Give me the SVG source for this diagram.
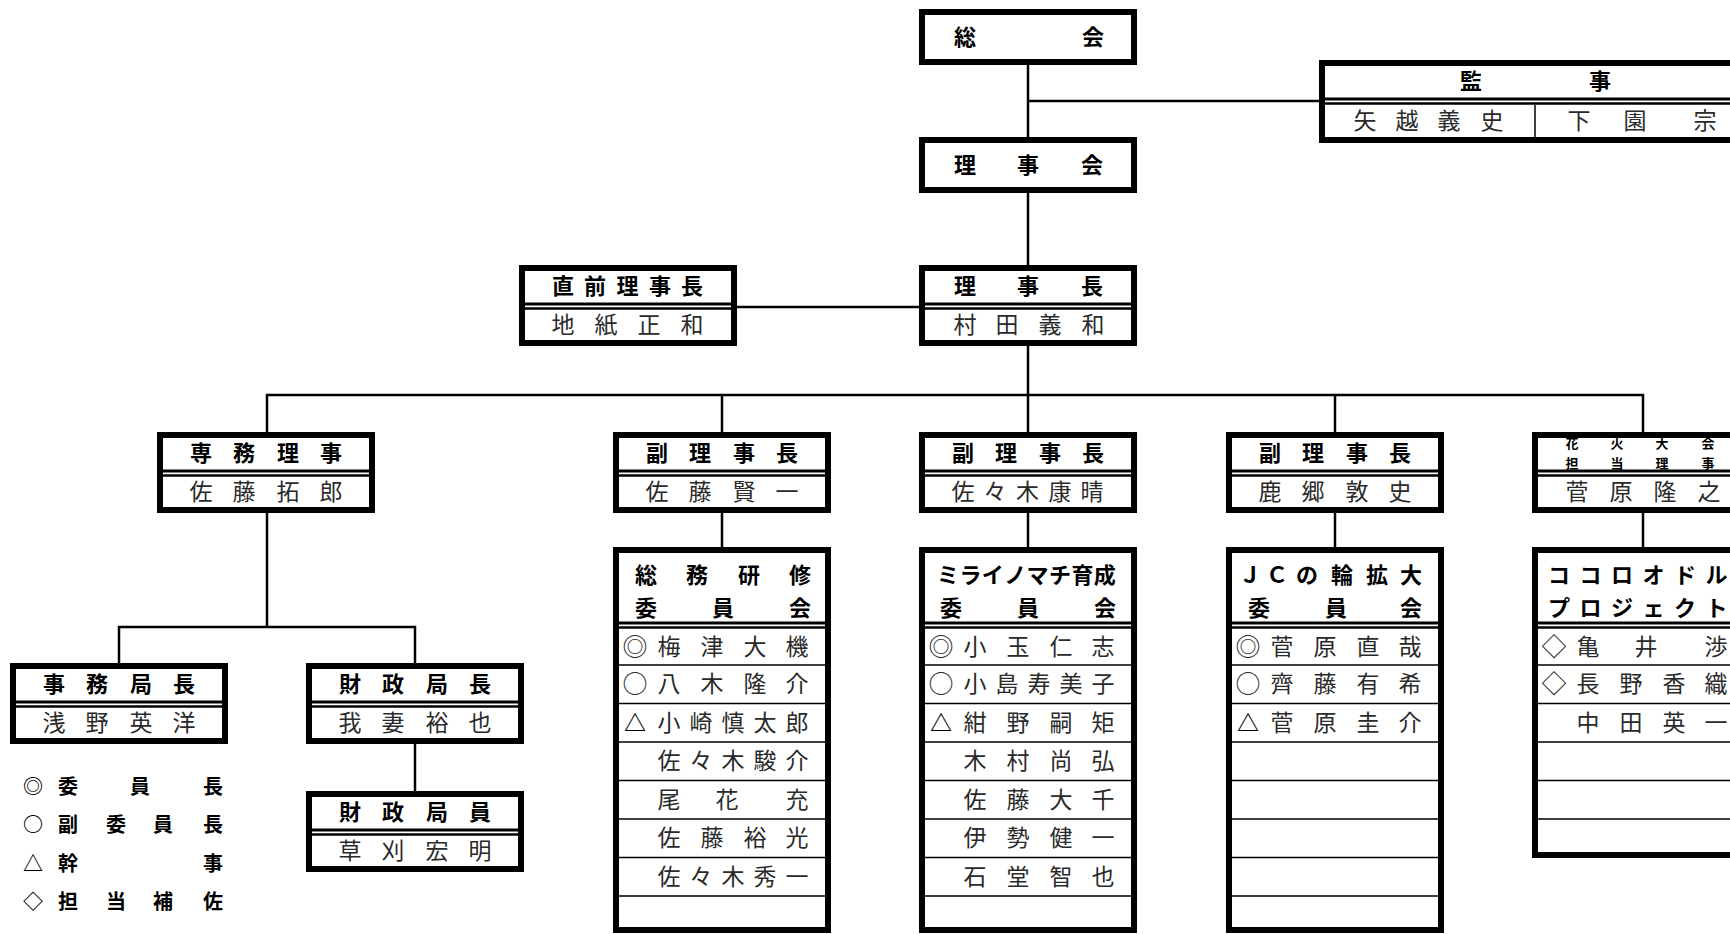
<svg xmlns="http://www.w3.org/2000/svg" width="1730" height="934" viewBox="0 0 1730 934">
<style>
.box{fill:#fff;stroke:#000;stroke-width:6}
.dl1{stroke:#000;stroke-width:3;fill:none}
.dl2{stroke:#000;stroke-width:2.5;fill:none}
.row{stroke:#000;stroke-width:1.5;fill:none}
.conn{stroke:#000;stroke-width:2.5;fill:none}
.t{font-family:"Noto Sans CJK JP","Noto Sans CJK SC",sans-serif;font-weight:bold;font-size:22px;text-anchor:middle;fill:#000}
.s{font-family:"Noto Sans CJK JP","Noto Sans CJK SC",sans-serif;font-weight:bold;font-size:13px;text-anchor:middle;fill:#000}
.n{font-family:"Noto Sans CJK JP","Noto Sans CJK SC",sans-serif;font-weight:normal;font-size:23px;text-anchor:middle;fill:#2a2a2a}
.sym{font-family:"Noto Sans CJK JP","Noto Sans CJK SC",sans-serif;font-weight:normal;font-size:25px;text-anchor:middle;fill:#2a2a2a}
.nb{font-family:"Noto Sans CJK JP","Noto Sans CJK SC",sans-serif;font-weight:bold;font-size:22px;text-anchor:middle;fill:#000}
.lg{font-family:"Noto Sans CJK JP","Noto Sans CJK SC",sans-serif;font-weight:bold;font-size:20px;text-anchor:middle;fill:#000}
</style>
<rect width="1730" height="934" fill="#fff"/>

<g id="connectors">
<path class="conn" d="M1028 65V137"/>
<path class="conn" d="M1028 101H1320"/>
<path class="conn" d="M1028 193V265"/>
<path class="conn" d="M737 307H919"/>
<path class="conn" d="M1028 346V432"/>
<path class="conn" d="M267 432V395H1643V432"/>
<path class="conn" d="M722 395V432"/>
<path class="conn" d="M1335 395V432"/>
<path class="conn" d="M722 513V547"/>
<path class="conn" d="M1028 513V547"/>
<path class="conn" d="M1335 513V547"/>
<path class="conn" d="M1643 513V547"/>
<path class="conn" d="M267 513V627"/>
<path class="conn" d="M119 663V627H415V663"/>
<path class="conn" d="M415 744V791"/>
</g>

<g id="sokai">
<rect class="box" x="922" y="12" width="212" height="50"/>
<text class="t" x="965 1093" y="45">総会</text>
</g>

<g id="rijikai">
<rect class="box" x="922" y="140" width="212" height="50"/>
<text class="t" x="965 1028 1092" y="173">理事会</text>
</g>

<g id="kanji">
<rect class="box" x="1322" y="63" width="427" height="77"/>
<path class="dl1" d="M1322 99H1749"/>
<path class="dl2" d="M1322 103.5H1749"/>
<path class="row" d="M1535 105V140"/>
<text class="t" x="1471 1600" y="89">監事</text>
<text class="n" x="1365 1407 1449 1492" y="129">矢越義史</text>
<text class="n" x="1579 1635 1705" y="129">下園宗</text>
</g>

<g id="rijicho">
<rect class="box" x="922" y="268" width="212" height="75"/>
<path class="dl1" d="M922 304H1134"/>
<path class="dl2" d="M922 308.5H1134"/>
<text class="t" x="965 1028 1092" y="294">理事長</text>
<text class="n" x="965 1007 1050 1093" y="333">村田義和</text>
</g>

<g id="chokuzen">
<rect class="box" x="522" y="268" width="212" height="75"/>
<path class="dl1" d="M522 304H734"/>
<path class="dl2" d="M522 308.5H734"/>
<text class="t" x="563 595 627.5 660 692" y="294">直前理事長</text>
<text class="n" x="563 606 649 692" y="333">地紙正和</text>
</g>

<g id="senmu">
<rect class="box" x="160" y="435" width="212" height="75"/>
<path class="dl1" d="M160 471H372"/>
<path class="dl2" d="M160 475.5H372"/>
<text class="t" x="201 244 288 331" y="461">専務理事</text>
<text class="n" x="201 244 288 331" y="500">佐藤拓郎</text>
</g>

<g id="fuku1">
<rect class="box" x="616" y="435" width="212" height="75"/>
<path class="dl1" d="M616 471H828"/>
<path class="dl2" d="M616 475.5H828"/>
<text class="t" x="657 700 744 787" y="461">副理事長</text>
<text class="n" x="657 700 744 787" y="500">佐藤賢一</text>
</g>

<g id="fuku2">
<rect class="box" x="922" y="435" width="212" height="75"/>
<path class="dl1" d="M922 471H1134"/>
<path class="dl2" d="M922 475.5H1134"/>
<text class="t" x="963 1006 1050 1093" y="461">副理事長</text>
<text class="n" x="963 995 1027.5 1060 1092" y="500">佐々木康晴</text>
</g>

<g id="fuku3">
<rect class="box" x="1229" y="435" width="212" height="75"/>
<path class="dl1" d="M1229 471H1441"/>
<path class="dl2" d="M1229 475.5H1441"/>
<text class="t" x="1270 1313 1357 1400" y="461">副理事長</text>
<text class="n" x="1270 1313 1357 1400" y="500">鹿郷敦史</text>
</g>

<g id="hanabi">
<rect class="box" x="1535" y="435" width="212" height="75"/>
<path class="dl1" d="M1535 471H1747"/>
<path class="dl2" d="M1535 475.5H1747"/>
<text class="s" x="1572 1617 1662 1708" y="448">花火大会</text>
<text class="s" x="1572 1617 1662 1708" y="468">担当理事</text>
<text class="n" x="1577 1621 1665 1709" y="500">菅原隆之</text>
</g>

<g id="jimukyokucho">
<rect class="box" x="13" y="666" width="212" height="75"/>
<path class="dl1" d="M13 702H225"/>
<path class="dl2" d="M13 706.5H225"/>
<text class="t" x="54 97 141 184" y="692">事務局長</text>
<text class="n" x="54 97 141 184" y="731">浅野英洋</text>
</g>

<g id="zaiseikyokucho">
<rect class="box" x="309" y="666" width="212" height="75"/>
<path class="dl1" d="M309 702H521"/>
<path class="dl2" d="M309 706.5H521"/>
<text class="t" x="350 393 437 480" y="692">財政局長</text>
<text class="n" x="350 393 437 480" y="731">我妻裕也</text>
</g>

<g id="zaiseikyokuin">
<rect class="box" x="309" y="794" width="212" height="75"/>
<path class="dl1" d="M309 830H521"/>
<path class="dl2" d="M309 834.5H521"/>
<text class="t" x="350 393 437 480" y="820">財政局員</text>
<text class="n" x="350 393 437 480" y="859">草刈宏明</text>
</g>

<g id="somu">
<rect class="box" x="616" y="550" width="212" height="380"/>
<path class="dl1" d="M616 623H828"/>
<path class="dl2" d="M616 627.5H828"/>
<path class="row" d="M616 665H828M616 703.5H828M616 742H828M616 780.5H828M616 819H828M616 857.5H828M616 896H828"/>
<text class="t" x="646 697 749 800" y="583">総務研修</text>
<text class="t" x="646 723 800" y="616">委員会</text>
<text class="sym" x="635" y="656">◎</text>
<text class="n" x="669 712 755 797" y="655">梅津大機</text>
<text class="sym" x="635" y="693">○</text>
<text class="n" x="669 712 755 797" y="692">八木隆介</text>
<text class="nb" x="635" y="731">△</text>
<text class="n" x="669 701 733 765 797" y="731">小崎慎太郎</text>
<text class="n" x="669 701 733 765 797" y="769">佐々木駿介</text>
<text class="n" x="669 727 797" y="808">尾花充</text>
<text class="n" x="669 712 755 797" y="846">佐藤裕光</text>
<text class="n" x="669 701 733 765 797" y="885">佐々木秀一</text>
</g>

<g id="mirai">
<rect class="box" x="922" y="550" width="212" height="380"/>
<path class="dl1" d="M922 623H1134"/>
<path class="dl2" d="M922 627.5H1134"/>
<path class="row" d="M922 665H1134M922 703.5H1134M922 742H1134M922 780.5H1134M922 819H1134M922 857.5H1134M922 896H1134"/>
<text class="t" x="948 970.4 992.8 1015.2 1037.6 1060 1082.4 1104.8" y="583">ミライノマチ育成</text>
<text class="t" x="951 1028 1105" y="616">委員会</text>
<text class="sym" x="941" y="656">◎</text>
<text class="n" x="975 1018 1061 1103" y="655">小玉仁志</text>
<text class="sym" x="941" y="693">○</text>
<text class="n" x="975 1007 1039 1071 1103" y="692">小島寿美子</text>
<text class="nb" x="941" y="731">△</text>
<text class="n" x="975 1018 1061 1103" y="731">紺野嗣矩</text>
<text class="n" x="975 1018 1061 1103" y="769">木村尚弘</text>
<text class="n" x="975 1018 1061 1103" y="808">佐藤大千</text>
<text class="n" x="975 1018 1061 1103" y="846">伊勢健一</text>
<text class="n" x="975 1018 1061 1103" y="885">石堂智也</text>
</g>

<g id="jc">
<rect class="box" x="1229" y="550" width="212" height="380"/>
<path class="dl1" d="M1229 623H1441"/>
<path class="dl2" d="M1229 627.5H1441"/>
<path class="row" d="M1229 665H1441M1229 703.5H1441M1229 742H1441M1229 780.5H1441M1229 819H1441M1229 857.5H1441M1229 896H1441"/>
<text class="t" x="1250 1277 1307 1342 1377 1411" y="583">ＪＣの輪拡大</text>
<text class="t" x="1259 1336 1411" y="616">委員会</text>
<text class="sym" x="1248" y="656">◎</text>
<text class="n" x="1282 1325 1368 1410" y="655">菅原直哉</text>
<text class="sym" x="1248" y="693">○</text>
<text class="n" x="1282 1325 1368 1410" y="692">齊藤有希</text>
<text class="nb" x="1248" y="731">△</text>
<text class="n" x="1282 1325 1368 1410" y="731">菅原圭介</text>
</g>

<g id="kokoro">
<rect class="box" x="1535" y="550" width="212" height="305"/>
<path class="dl1" d="M1535 623H1747"/>
<path class="dl2" d="M1535 627.5H1747"/>
<path class="row" d="M1535 665H1747M1535 703.5H1747M1535 742H1747M1535 780.5H1747M1535 819H1747"/>
<text class="t" x="1559 1590.5 1622 1653.5 1685 1716.5" y="583">ココロオドル</text>
<text class="t" x="1559 1590.5 1622 1653.5 1685 1716.5" y="616">プロジェクト</text>
<text class="sym" x="1554" y="656">◇</text>
<text class="n" x="1588 1646 1716" y="655">亀井渉</text>
<text class="sym" x="1554" y="693">◇</text>
<text class="n" x="1588 1631 1674 1716" y="692">長野香織</text>
<text class="n" x="1588 1631 1674 1716" y="731">中田英一</text>
</g>

<g id="legend">
<text class="lg" x="33 68 140 213" y="794">◎委員長</text>
<text class="lg" x="33 68 116 163 213" y="832">○副委員長</text>
<text class="lg" x="33 68 213" y="871">△幹事</text>
<text class="lg" x="33 68 116 163 213" y="909">◇担当補佐</text>
</g>
</svg>
